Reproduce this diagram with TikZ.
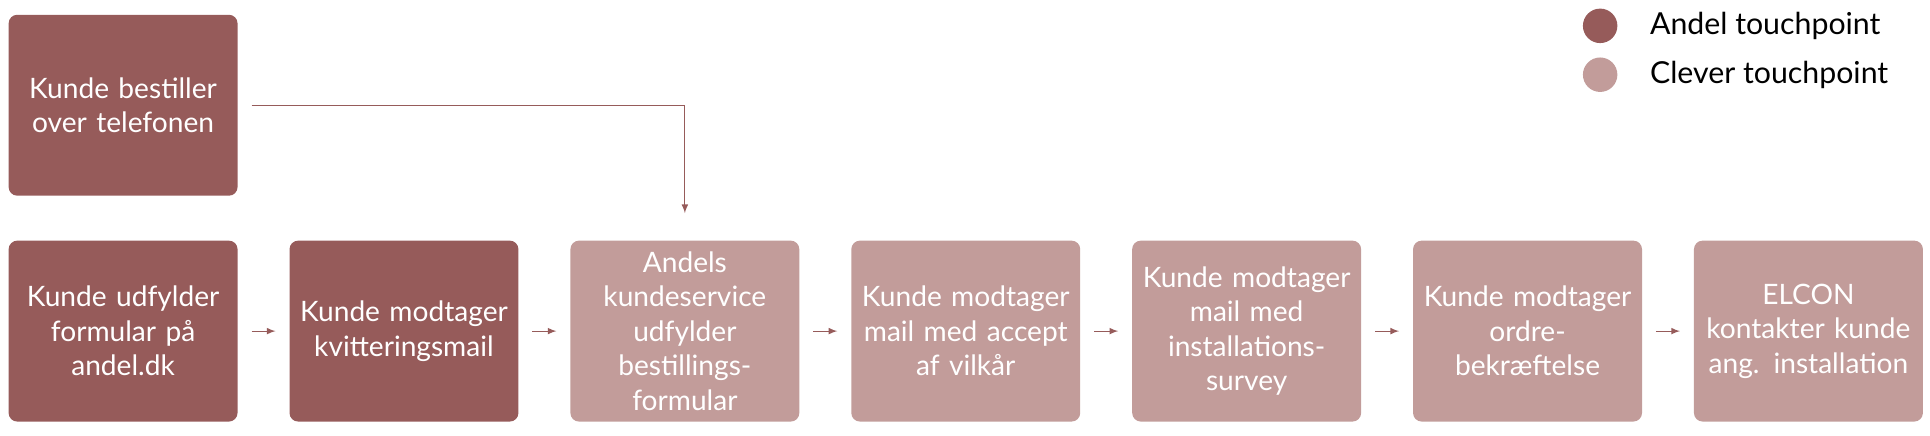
\documentclass[tikz,border=0pt]{standalone}
\usepackage{fontspec}
\setmainfont{Lato}
\usetikzlibrary{positioning}
\definecolor{andel}{HTML}{965B5A}
\definecolor{clever}{HTML}{C29C9A}

\begin{document}
\begin{tikzpicture}[
  font=\fontsize{13}{16}\selectfont,
  box/.style={rounded corners=4pt, align=center, text=white, minimum width=37.2mm, minimum height=29.4mm, text width=34mm, inner sep=0pt},
  arr/.style={->, >=latex, draw=andel, shorten >=2.2mm, shorten <=2.2mm},
  dot/.style={circle, minimum size=5.6mm, inner sep=0pt}
]
\useasboundingbox (0,0) rectangle (31.36,-7.08);

\node[box, fill=andel] (tlf) at (2.0,-1.71) {Kunde bestiller\\over telefonen};

\node[box, fill=andel] (b1) at (2.0,-5.38) {Kunde udfylder\\formular på\\andel.dk};
\node[box, fill=andel, right=8.3mm of b1] (b2) {Kunde modtager\\kvitteringsmail};
\node[box, fill=clever, right=8.3mm of b2] (b3) {Andels\\kundeservice\\udfylder\\bestillings-\\formular};
\node[box, fill=clever, right=8.3mm of b3] (b4) {Kunde modtager\\mail med accept\\af vilkår};
\node[box, fill=clever, right=8.3mm of b4] (b5) {Kunde modtager\\mail med\\installations-\\survey};
\node[box, fill=clever, right=8.3mm of b5] (b6) {Kunde modtager\\ordre-\\bekræftelse};
\node[box, fill=clever, right=8.3mm of b6] (b7) {ELCON\\kontakter kunde\\ang. installation};

\foreach \a/\b in {b1/b2, b2/b3, b3/b4, b4/b5, b5/b6, b6/b7}
  \draw[arr] (\a) -- (\b);

\draw[arr, shorten >=4.4mm] (tlf.east) -| (b3.north);

% legend
\node[dot, fill=andel] (la) at (26.0,-0.42) {};
\node[dot, fill=clever, below=2.2mm of la] (lc) {};
\node[right=4mm of la, font=\fontsize{14}{16}\selectfont] (ta) {Andel touchpoint};
\node[right=4mm of lc, font=\fontsize{14}{16}\selectfont] (tc) {Clever touchpoint};
\end{tikzpicture}
\end{document}
